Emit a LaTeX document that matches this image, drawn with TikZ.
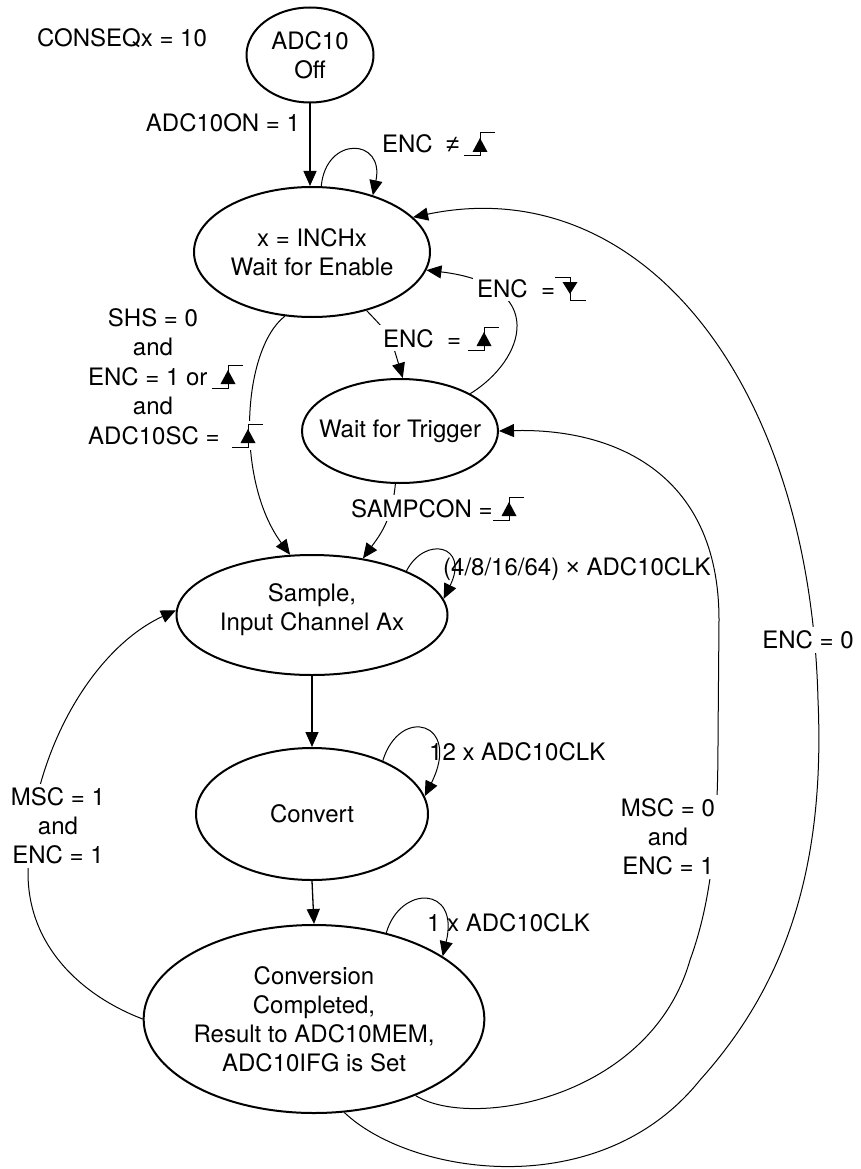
\documentclass[tikz,border=0pt]{standalone}
\usepackage{fontspec}
\setmainfont{TeX Gyre Heros}
\newfontfamily\symfont{Liberation Sans}
\usetikzlibrary{shapes.geometric,arrows.meta}
\begin{document}
\begin{tikzpicture}[x=1pt,y=-1pt,
  font=\fontsize{24}{29}\selectfont,
  state/.style={ellipse,draw,line width=2pt,inner sep=0pt,align=center},
  conn/.style={line width=1pt,-{Triangle[length=15pt,width=13pt]}},
  vconn/.style={line width=1.3pt,-{Triangle[length=15pt,width=13pt]}},
  lab/.style={inner sep=0pt},
  cut/.style={fill=white,inner sep=4pt},
  rise/.pic={
    \fill[white] (-1,3) rectangle (32,-26);
    \draw[line width=1pt] (0,0) -- (16,0) -- (16,-23) -- (31,-23);
    \fill (8.5,-4) -- (23.5,-4) -- (16,-18) -- cycle;
  },
  fall/.pic={
    \fill[white] (-1,3) rectangle (32,-26);
    \draw[line width=1pt] (0,-23) -- (15,-23) -- (15,0) -- (31,0);
    \fill (7.5,-18) -- (22.5,-18) -- (15,-6) -- cycle;
  }]
\useasboundingbox (0,0) rectangle (861,1169);

% states
\node[state,minimum width=127pt,minimum height=95pt] (off) at (310,55) {ADC10\\Off};
\node[state,minimum width=236pt,minimum height=130pt] (en) at (312,252) {x = INCHx\\Wait for Enable};
\node[state,minimum width=196pt,minimum height=104pt,inner xsep=-16pt] (trig) at (400,431) {Wait for Trigger};
\node[state,minimum width=271pt,minimum height=120pt,text depth=15pt] (samp) at (312,615) {Sample,\\Input Channel Ax};
\node[state,minimum width=232pt,minimum height=132pt] (conv) at (312,814) {Convert};
\node[state,minimum width=317pt,minimum height=188pt] (done) at (314,1019) {Conversion\\Completed,\\Result to ADC10MEM,\\ADC10IFG is Set};

% straight transitions
\draw[vconn] (off.south) -- (off.south |- en.north);
\draw[vconn] (samp.south) -- (conv.north);
\draw[vconn] (conv.south) -- (done.north);

% self loops
\draw[conn] (en.82) .. controls (326,135) and (385,138) .. (en.43);
\draw[conn] (samp.25) .. controls (425,535) and (470,545) .. (samp.7);
\draw[conn] (conv.37) .. controls (400,705) and (462,722) .. (conv.9);
\draw[conn] (done.50) .. controls (400,885) and (460,885) .. (done.26);

% other transitions
\draw[conn] (en.-47) .. controls (390,335) .. (trig.87);
\draw[conn] (trig.28) .. controls (525,360) and (550,285) .. (en.-9);
\draw[conn] (en.-113) .. controls (242,350) and (235,480) .. (samp.110);
\draw[conn] (trig.-95) .. controls (392,520) and (380,535) .. (samp.48);
\draw[conn] (done.west) .. controls (80,995) and (28,945) .. (28,873)
  .. controls (28,760) and (90,650) .. (samp.178);
\draw[conn] (done.-37) .. controls (470,1130) and (650,1100) .. (690,960)
  .. controls (712,900) and (718,830) .. (718,740) -- (719,620)
  .. controls (719,470) and (610,428) .. (trig.east);
\draw[conn] (done.-72) .. controls (410,1175) and (600,1205) .. (700,1080)
  .. controls (790,980) and (825,860) .. (818,700)
  .. controls (810,380) and (640,170) .. (en.19);

% labels
\node[lab,anchor=base] (lconseq) at (122,47) {CONSEQx = 10};
\node[lab,anchor=base] (lon) at (223,131.5) {ADC10ON = 1};
\node[lab,anchor=base west] (lencne) at (382,153) {ENC\ \ {\symfont ≠}};
\pic (sencne) at (464,156) {rise};
\node[cut,anchor=base west] (lencf) at (473,297) {ENC\ \ =};
\pic (sencf) at (555,300) {fall};
\node[cut,anchor=base west] (lencr) at (379,347) {ENC\ \ =};
\pic (sencr) at (468,350) {rise};
\node[lab,anchor=base] (ls1) at (153,326) {SHS = 0};
\node[lab,anchor=base] (ls2) at (153,355) {and};
\node[lab,anchor=base west] (ls3) at (88,385) {ENC = 1 or};
\pic (ss3) at (212,388) {rise};
\node[lab,anchor=base] (ls4) at (153,414) {and};
\node[lab,anchor=base west] (ls5) at (88,444) {ADC10SC =};
\pic (ss5) at (232,447) {rise};
\node[cut,anchor=base west] (lsamp) at (347,517) {SAMPCON =};
\pic (ssamp) at (493,520) {rise};
\node[lab,anchor=base west] (lsl) at (443,575.5) {(4/8/16/64) {\symfont ×} ADC10CLK};
\node[lab,anchor=base west] (lcl) at (429,760.5) {12 x ADC10CLK};
\node[lab,anchor=base west] (ldl) at (427,931.5) {1 x ADC10CLK};
\node[cut,align=center] (lmsc1) at (58,826) {MSC = 1\\and\\ENC = 1};
\node[cut,align=center] (lmsc0) at (668,837) {MSC = 0\\and\\ENC = 1};
\node[cut,anchor=base] (lenc0) at (808,648.5) {ENC = 0};
\end{tikzpicture}
\end{document}
